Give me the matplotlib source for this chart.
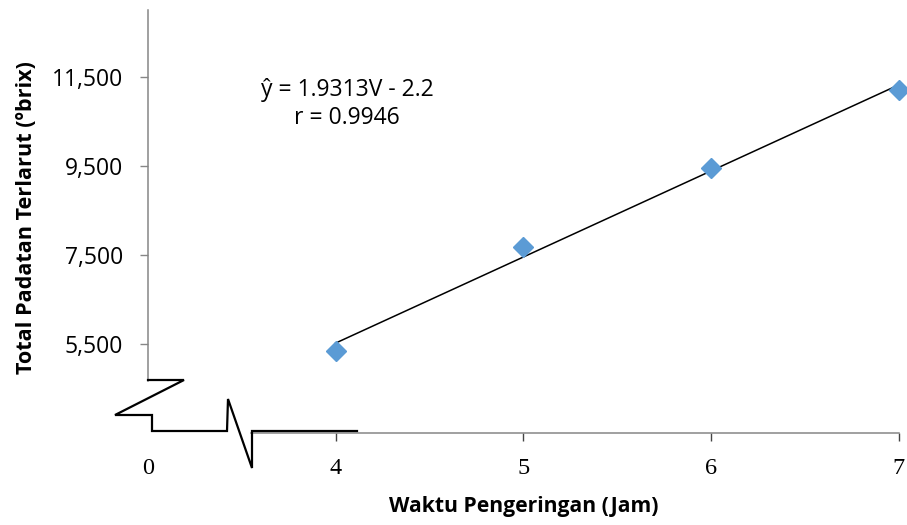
import matplotlib
matplotlib.use('Agg')
import matplotlib.pyplot as plt
from matplotlib.lines import Line2D
from matplotlib.ticker import FuncFormatter

# Data
waktu = [4, 5, 6, 7]
padatan = [5.35, 7.69, 9.46, 11.20]
slope = 1.9313
intercept = -2.2
r_value = 0.9946
x_ticks = [3, 4, 5, 6, 7]
x_tick_labels = ['0', '4', '5', '6', '7']
y_ticks = [5.5, 7.5, 9.5, 11.5]

W, H = 907, 525
fig = plt.figure(figsize=(W / 100, H / 100), dpi=100)


def px(x, y):
    # image pixel (y down) -> figure fraction
    return x / W, 1 - y / H


left, right, top, bottom = 148, 898.7, 10, 433.3
ax = fig.add_axes([left / W, 1 - bottom / H, (right - left) / W, (bottom - top) / H])
ax.set_xlim(3, 7)
ax.set_ylim(3.5, 13.0)

axis_gray = '#868686'
for s in ['top', 'right']:
    ax.spines[s].set_visible(False)
ax.spines['left'].set_color(axis_gray)
ax.spines['bottom'].set_color(axis_gray)
ax.spines['left'].set_linewidth(1.1)
ax.spines['bottom'].set_linewidth(1.1)
ax.spines['left'].set_bounds(4.68, 13.0)
ax.spines['bottom'].set_bounds(3.55, 7)

# trendline + points
ax.plot([waktu[0], waktu[-1]], [slope * waktu[0] + intercept, slope * waktu[-1] + intercept],
        color='black', lw=1.1, zorder=2)
ax.plot(waktu, padatan, 'D', color='#5B9BD5', ms=10.5, mec='#5B9BD5', zorder=3, clip_on=False)

ax.set_xticks(x_ticks)
ax.set_xticklabels(x_tick_labels, fontfamily='Liberation Serif', fontsize=17.5)
ax.set_yticks(y_ticks)
ax.yaxis.set_major_formatter(FuncFormatter(lambda v, p: '{:.3f}'.format(v).replace('.', ',')))
for lab in ax.get_yticklabels():
    lab.set_fontfamily('Open Sans')
    lab.set_fontsize(16.5)
ax.tick_params(axis='x', direction='out', length=5.8, width=1.0, color='#444444', pad=12)
ax.tick_params(axis='y', direction='out', length=5.8, width=1.0, color=axis_gray, pad=12)
ax.xaxis.get_major_ticks()[0].tick1line.set_visible(False)

ax.set_xlabel('Waktu Pengeringan (Jam)', fontfamily='Open Sans', fontweight='bold', fontsize=15.2)
ax.set_ylabel('Total Padatan Terlarut (ºbrix)', fontfamily='Open Sans', fontweight='bold', fontsize=15.6)
ax.xaxis.set_label_coords(0.5, -0.148)
ax.yaxis.set_label_coords(-0.148, 0.51)

# equation text
fig.text(*px(347, 104), 'ŷ = {}V - {}\nr = {}'.format(slope, abs(intercept), r_value),
         ha='center', va='center', multialignment='center', fontfamily='Open Sans',
         fontsize=16.5, linespacing=1.25)

# axis break decoration
brk = [(148, 380), (184, 380), (115, 415), (152, 415), (152, 431), (227, 431),
       (228, 399), (252, 468), (252, 431), (357, 431)]
bx, by = zip(*[px(x, y) for x, y in brk])
fig.add_artist(Line2D(bx, by, transform=fig.transFigure, color='black', lw=1.6,
                      solid_joinstyle='miter'))

fig.savefig('out.png', dpi=100)
